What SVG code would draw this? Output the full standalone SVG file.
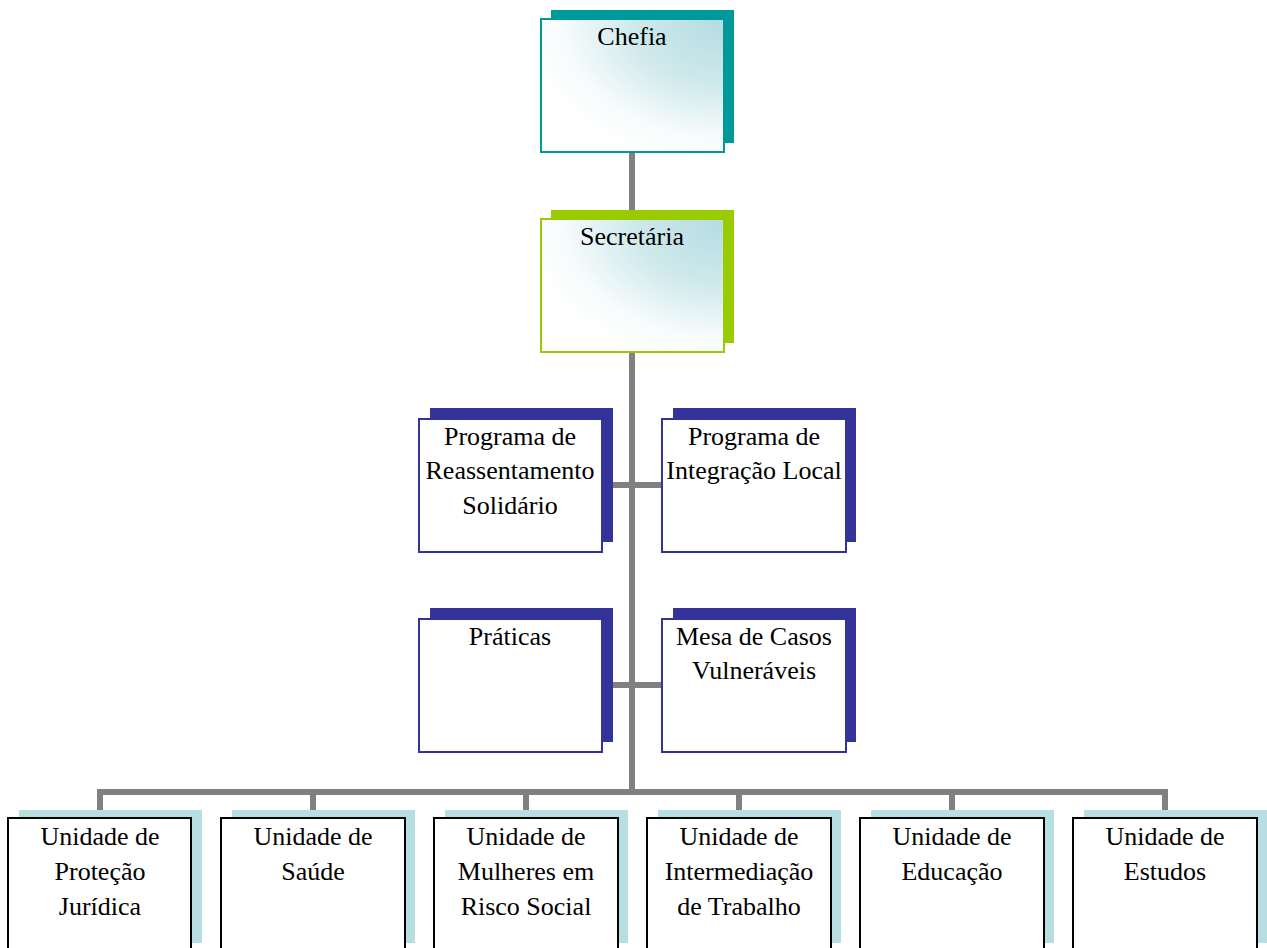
<svg xmlns="http://www.w3.org/2000/svg" width="1267" height="948" viewBox="0 0 1267 948">
<defs>
<radialGradient id="g" cx="100%" cy="0%" r="110%" fx="100%" fy="0%">
<stop offset="0" stop-color="#b3dce1"/>
<stop offset="0.45" stop-color="#cfe9ec"/>
<stop offset="0.8" stop-color="#f6fbfb"/>
<stop offset="1" stop-color="#ffffff"/>
</radialGradient>
</defs>
<style>
.t{font-family:"Liberation Serif","Times New Roman",serif;font-size:26px;fill:#000;text-anchor:middle}
.c{stroke:#808080;stroke-width:6;fill:none}
.sh1{fill:#009999}
.fr1{fill:url(#g);stroke:#009999;stroke-width:2}
.sh2{fill:#99cc00}
.fr2{fill:url(#g);stroke:#99cc00;stroke-width:2}
.sh3{fill:#333399}
.fr3{fill:#fff;stroke:#333399;stroke-width:2}
.sh4{fill:#b7dfe1}
.fr4{fill:#fff;stroke:#000;stroke-width:2}
</style>
<g id="connectors">
<line class="c" x1="632" y1="150" x2="632" y2="220"/>
<line class="c" x1="632" y1="350" x2="632" y2="795"/>
<line class="c" x1="600" y1="485" x2="664" y2="485"/>
<line class="c" x1="600" y1="685" x2="664" y2="685"/>
<polyline class="c" points="100,812 100,792 1165,792 1165,812"/>
<line class="c" x1="313" y1="792" x2="313" y2="812"/>
<line class="c" x1="526" y1="792" x2="526" y2="812"/>
<line class="c" x1="739" y1="792" x2="739" y2="812"/>
<line class="c" x1="952" y1="792" x2="952" y2="812"/>
</g>
<g id="chefia">
<rect class="sh1" x="551" y="10" width="183" height="133"/>
<rect class="fr1" x="541" y="19" width="183" height="133"/>
<text class="t" x="632" y="45">Chefia</text>
</g>
<g id="secretaria">
<rect class="sh2" x="551" y="210" width="183" height="133"/>
<rect class="fr2" x="541" y="219" width="183" height="133"/>
<text class="t" x="632" y="245">Secretária</text>
</g>
<g id="prog-reassentamento">
<rect class="sh3" x="430" y="408" width="183" height="134"/>
<rect class="fr3" x="419" y="419" width="183" height="133"/>
<text class="t" x="510" y="445">Programa de</text>
<text class="t" x="510" y="479">Reassentamento</text>
<text class="t" x="510" y="514">Solidário</text>
</g>
<g id="prog-integracao">
<rect class="sh3" x="673" y="408" width="183" height="134"/>
<rect class="fr3" x="662" y="419" width="184" height="133"/>
<text class="t" x="754" y="445">Programa de</text>
<text class="t" x="754" y="479">Integração Local</text>
</g>
<g id="praticas">
<rect class="sh3" x="430" y="608" width="183" height="134"/>
<rect class="fr3" x="419" y="619" width="183" height="133"/>
<text class="t" x="510" y="645">Práticas</text>
</g>
<g id="mesa-casos">
<rect class="sh3" x="673" y="608" width="183" height="134"/>
<rect class="fr3" x="662" y="619" width="184" height="133"/>
<text class="t" x="754" y="645">Mesa de Casos</text>
<text class="t" x="754" y="679">Vulneráveis</text>
</g>
<g id="u-protecao">
<rect class="sh4" x="19" y="810" width="183" height="133"/>
<rect class="fr4" x="8" y="818" width="183" height="140"/>
<text class="t" x="100" y="845">Unidade de</text>
<text class="t" x="100" y="880">Proteção</text>
<text class="t" x="100" y="915">Jurídica</text>
</g>
<g id="u-saude">
<rect class="sh4" x="232" y="810" width="183" height="133"/>
<rect class="fr4" x="221" y="818" width="184" height="140"/>
<text class="t" x="313" y="845">Unidade de</text>
<text class="t" x="313" y="880">Saúde</text>
</g>
<g id="u-mulheres">
<rect class="sh4" x="445" y="810" width="183" height="133"/>
<rect class="fr4" x="434" y="818" width="184" height="140"/>
<text class="t" x="526" y="845">Unidade de</text>
<text class="t" x="526" y="880">Mulheres em</text>
<text class="t" x="526" y="915">Risco Social</text>
</g>
<g id="u-intermediacao">
<rect class="sh4" x="658" y="810" width="183" height="133"/>
<rect class="fr4" x="647" y="818" width="184" height="140"/>
<text class="t" x="739" y="845">Unidade de</text>
<text class="t" x="739" y="880">Intermediação</text>
<text class="t" x="739" y="915">de Trabalho</text>
</g>
<g id="u-educacao">
<rect class="sh4" x="871" y="810" width="183" height="133"/>
<rect class="fr4" x="860" y="818" width="184" height="140"/>
<text class="t" x="952" y="845">Unidade de</text>
<text class="t" x="952" y="880">Educação</text>
</g>
<g id="u-estudos">
<rect class="sh4" x="1084" y="810" width="183" height="133"/>
<rect class="fr4" x="1073" y="818" width="184" height="140"/>
<text class="t" x="1165" y="845">Unidade de</text>
<text class="t" x="1165" y="880">Estudos</text>
</g>
</svg>
